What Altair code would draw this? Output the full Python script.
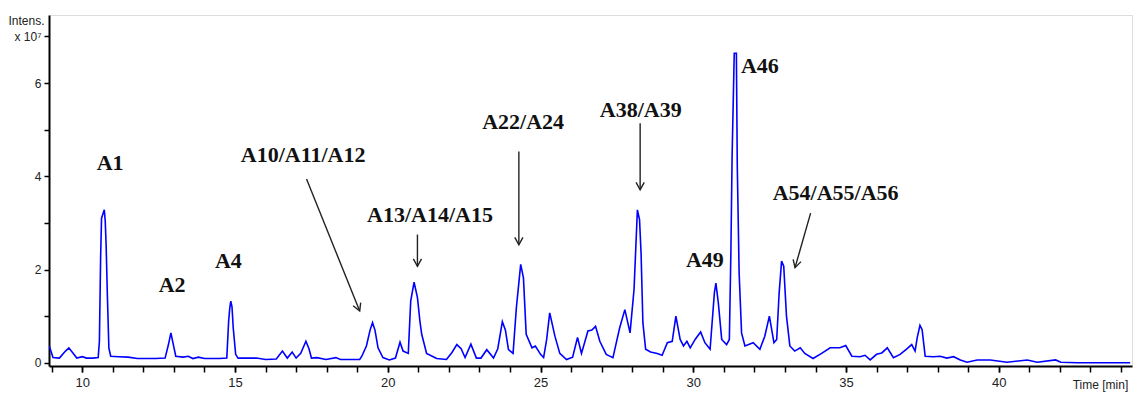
import altair as alt
import pandas as pd

# chromatogram trace (time in min, intensity in 1e7)
times = [8.92, 9.04, 9.25, 9.45, 9.56, 9.68, 9.82, 10.00, 10.14, 10.35, 10.52, 10.56, 10.60, 10.63, 10.68,
         10.72, 10.75, 10.78, 10.82, 10.87, 10.93, 11.2, 11.5, 11.8, 12.4, 12.71, 12.82, 12.90, 12.98, 13.06,
         13.3, 13.47, 13.62, 13.80, 14.0, 14.5, 14.73, 14.79, 14.83, 14.86, 14.90, 14.94, 15.02, 15.1, 15.7,
         16.0, 16.35, 16.55, 16.71, 16.87, 17.00, 17.15, 17.32, 17.42, 17.50, 17.68, 17.98, 18.30, 18.45, 19.08,
         19.15, 19.30, 19.42, 19.50, 19.58, 19.68, 19.84, 20.05, 20.25, 20.40, 20.50, 20.67, 20.75, 20.86, 20.97,
         21.05, 21.11, 21.27, 21.6, 21.92, 22.1, 22.26, 22.40, 22.53, 22.72, 22.90, 23.05, 23.24, 23.46, 23.60,
         23.75, 23.85, 23.95, 24.10, 24.21, 24.35, 24.44, 24.53, 24.72, 24.83, 25.0, 25.1, 25.2, 25.30, 25.47,
         25.63, 25.85, 26.05, 26.21, 26.34, 26.45, 26.55, 26.68, 26.80, 26.94, 27.15, 27.37, 27.59, 27.76, 27.93,
         28.06, 28.17, 28.24, 28.29, 28.35, 28.44, 28.60, 28.82, 28.98, 29.15, 29.31, 29.43, 29.57, 29.68, 29.79,
         29.90, 30.06, 30.24, 30.38, 30.55, 30.69, 30.74, 30.82, 30.93, 31.09, 31.18, 31.23, 31.27, 31.34, 31.41,
         31.44, 31.50, 31.58, 31.69, 31.96, 32.18, 32.34, 32.49, 32.64, 32.73, 32.81, 32.89, 32.96, 33.05, 33.16,
         33.32, 33.50, 33.65, 33.92, 34.20, 34.48, 34.80, 34.99, 35.19, 35.46, 35.62, 35.79, 36.00, 36.17, 36.35,
         36.55, 36.77, 36.98, 37.15, 37.26, 37.33, 37.42, 37.49, 37.59, 37.86, 38.08, 38.30, 38.52, 38.74, 38.96,
         39.29, 39.72, 40.27, 40.93, 41.26, 41.86, 42.03, 42.57, 44.30]
intens = [0.36, 0.11, 0.10, 0.25, 0.32, 0.22, 0.10, 0.13, 0.10, 0.10, 0.11, 0.46, 2.28, 3.10, 3.20,
          3.28, 3.05, 2.53, 1.46, 0.32, 0.14, 0.13, 0.12, 0.09, 0.09, 0.10, 0.39, 0.64, 0.39, 0.14,
          0.12, 0.14, 0.09, 0.12, 0.09, 0.09, 0.10, 0.89, 1.19, 1.32, 1.20, 0.75, 0.18, 0.10, 0.10,
          0.07, 0.08, 0.25, 0.10, 0.23, 0.10, 0.20, 0.46, 0.30, 0.10, 0.11, 0.07, 0.11, 0.07, 0.07,
          0.14, 0.36, 0.70, 0.86, 0.70, 0.32, 0.11, 0.06, 0.10, 0.44, 0.25, 0.20, 1.32, 1.73, 1.40,
          0.90, 0.61, 0.20, 0.09, 0.07, 0.22, 0.39, 0.30, 0.11, 0.40, 0.10, 0.10, 0.28, 0.10, 0.30,
          0.88, 0.70, 0.28, 0.20, 1.19, 2.11, 1.82, 0.61, 0.32, 0.36, 0.18, 0.11, 0.50, 1.07, 0.57,
          0.20, 0.07, 0.12, 0.54, 0.20, 0.45, 0.68, 0.70, 0.78, 0.46, 0.18, 0.11, 0.75, 1.14, 0.64,
          1.57, 3.28, 3.07, 2.36, 0.86, 0.29, 0.23, 0.20, 0.16, 0.43, 0.46, 1.00, 0.50, 0.36, 0.46,
          0.32, 0.50, 0.66, 0.43, 0.29, 1.50, 1.71, 1.28, 0.50, 0.39, 0.50, 2.36, 4.43, 6.64, 6.64,
          4.21, 1.93, 0.64, 0.36, 0.43, 0.29, 0.57, 1.00, 0.43, 0.50, 1.50, 2.18, 2.07, 1.00, 0.36,
          0.25, 0.32, 0.20, 0.09, 0.20, 0.32, 0.32, 0.37, 0.14, 0.13, 0.16, 0.06, 0.18, 0.21, 0.32,
          0.11, 0.18, 0.29, 0.39, 0.25, 0.54, 0.80, 0.71, 0.14, 0.13, 0.14, 0.10, 0.13, 0.06, 0.01,
          0.06, 0.06, 0.01, 0.06, 0.01, 0.06, 0.01, 0.00, 0.00]

# axis ticks
x_major = [10, 15, 20, 25, 30, 35, 40]
x_minor = list(range(9, 45))
y_ticks = [0, 1, 2, 3, 4, 5, 6, 7]

# peak labels (position in data units)
label_text = ["A1", "A2", "A4", "A10/A11/A12", "A13/A14/A15", "A22/A24", "A38/A39", "A46", "A49", "A54/A55/A56"]
label_t = [10.91, 12.94, 14.78, 17.23, 21.38, 24.43, 28.28, 32.18, 30.38, 34.66]
label_y = [4.29, 1.66, 2.19, 4.46, 3.16, 5.16, 5.43, 6.36, 2.21, 3.64]

# arrows (start -> tip in data units)
arrow_t1 = [17.34, 20.97, 24.29, 28.26, 33.84]
arrow_y1 = [3.94, 2.75, 4.53, 5.14, 3.21]
arrow_t2 = [19.08, 20.97, 24.29, 28.26, 33.33]
arrow_y2 = [1.11, 2.07, 2.53, 3.71, 2.04]
arrow_angle = [337.8, 0, 0, 0, 15.9]

trace = pd.DataFrame({"t": times, "v": intens})
labels = pd.DataFrame({"text": label_text, "t": label_t, "v": label_y})
arrows = pd.DataFrame({"t1": arrow_t1, "v1": arrow_y1, "t2": arrow_t2, "v2": arrow_y2, "ang": arrow_angle})

xscale = alt.Scale(domain=[8.91, 44.36], nice=False, zero=False)
yscale = alt.Scale(domain=[-0.07, 7.46], nice=False, zero=False)

xaxis = alt.Axis(
    values=x_major, orient="bottom", format="d",
    labelOverlap=False,
    grid=False, tickSize=6, tickWidth=1.5, tickColor="black",
    domainColor="black", domainWidth=2,
    labelFont="Liberation Sans", labelFontSize=13, labelColor="#222", labelPadding=4,
    title="Time [min]", titleFont="Liberation Sans", titleFontSize=12, titleFontWeight="normal",
    titleColor="#222", titleX=1051, titleY=18, titleAlign="center", titleBaseline="middle",
)
xaxis_minor = alt.Axis(
    values=x_minor, orient="bottom", labels=False, domain=False, grid=False,
    tickSize=6, tickWidth=1.5, tickColor="black", title=None,
)
yaxis = alt.Axis(
    values=y_ticks,
    labelExpr="datum.value == 7 ? 'x 10⁷' : (datum.value % 2 == 0 ? datum.value : '')",
    labelOverlap=False,
    grid=False, tickSize=5, tickWidth=1.5, tickColor="black",
    domainColor="black", domainWidth=2,
    labelFont="Liberation Sans", labelFontSize=12, labelColor="#222", labelPadding=3,
    title="Intens.", titleAngle=0, titleX=-23, titleY=5, titleAlign="center", titleBaseline="middle",
    titleFont="Liberation Sans", titleFontSize=12, titleFontWeight="normal", titleColor="#222",
)

line = alt.Chart(trace).mark_line(color="#0000FF", strokeWidth=1.6, clip=True).encode(
    x=alt.X("t:Q", scale=xscale, axis=xaxis),
    y=alt.Y("v:Q", scale=yscale, axis=yaxis),
)

text = alt.Chart(labels).mark_text(
    font="Liberation Serif", fontWeight="bold", fontSize=22, color="#111",
    align="center", baseline="middle",
).encode(x=alt.X("t:Q", scale=xscale, axis=xaxis_minor), y=alt.Y("v:Q", scale=yscale, axis=yaxis), text="text:N")

shafts = alt.Chart(arrows).mark_rule(color="#222", strokeWidth=1.4).encode(
    x=alt.X("t1:Q", scale=xscale, axis=None), y=alt.Y("v1:Q", scale=yscale, axis=yaxis),
    x2="t2:Q", y2="v2:Q",
)

heads = alt.Chart(arrows).mark_point(
    shape="M -0.55 -1 L 0 0 L 0.55 -1", filled=False, color="#222", strokeWidth=1.4, size=220, opacity=1,
).encode(
    x=alt.X("t2:Q", scale=xscale, axis=None), y=alt.Y("v2:Q", scale=yscale, axis=yaxis),
    angle=alt.Angle("ang:Q", scale=None),
)

chart = alt.layer(line, text, shafts, heads).resolve_axis(x="independent").properties(
    width=1083, height=351,
    autosize=alt.AutoSizeParams(type="none"),
    padding={"left": 49, "top": 15, "right": 2, "bottom": 28},
).configure_view(stroke="black", strokeWidth=1.5).configure(background="white")

chart.save("out.html", embed_options={"renderer": "svg", "actions": False})
